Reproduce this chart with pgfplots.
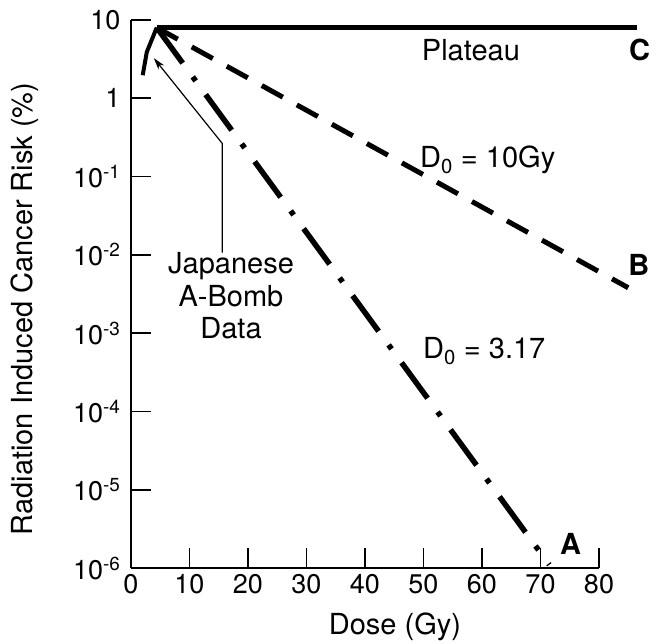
\documentclass[border=0pt]{standalone}
\usepackage{fontspec}
\setmainfont{TeX Gyre Heros}
\usepackage{pgfplots}
\pgfplotsset{compat=1.18}
\usetikzlibrary{arrows.meta}
\begin{document}
\begin{tikzpicture}
\path[use as bounding box] (-131bp,-76bp) rectangle (526bp,568bp);
\begin{axis}[
  at={(0,0)}, anchor=south west,
  scale only axis, width=468bp, height=548bp,
  ymode=log, log basis y=10,
  xmin=0, xmax=80, ymin=1e-6, ymax=10,
  axis lines=left,
  axis line style={line width=2bp, -},
  clip=false,
  tick align=inside,
  major tick length=20bp,
  minor tick length=0pt,
  minor tick style={draw=none},
  tick style={line width=1.6bp, black},
  xtick={0,10,20,30,40,50,60,70,80},
  xticklabels={0,10,20,30,40,50,60,70,80},
  ytick={1e-6,1e-5,1e-4,1e-3,1e-2,1e-1,1,10},
  yticklabels={10\textsuperscript{-6},10\textsuperscript{-5},10\textsuperscript{-4},10\textsuperscript{-3},10\textsuperscript{-2},10\textsuperscript{-1},1,10},
  /pgf/number format/assume math mode=true,
  tick label style={font=\fontsize{27bp}{31bp}\selectfont},
  xticklabel style={yshift=-3bp},
  yticklabel style={xshift=-7bp},
  xlabel={Dose (Gy)},
  xlabel style={at={(axis description cs:0.564,-0.108)}, anchor=center, font=\fontsize{29bp}{33bp}\selectfont},
  ylabel={Radiation Induced Cancer Risk (\%)},
  ylabel style={at={(axis description cs:-0.226,0.473)}, anchor=center, font=\fontsize{29bp}{33bp}\selectfont},
]
% Japanese A-bomb data
\addplot[black, line width=4bp, line join=miter] coordinates {(2.0,1.97) (2.7,3.9) (4.4,8)};
% C: plateau
\addplot[black, line width=5bp] coordinates {(4.4,8) (86.5,8)};
% B: D0 = 10 Gy
\addplot[black, line width=5bp, dash pattern=on 24bp off 16bp] coordinates {(4.4,8) (85,3.8e-3)};
% A: D0 = 3.17
\addplot[black, line width=5.5bp, dash pattern=on 44bp off 17bp on 5bp off 17bp] coordinates {(4.4,8) (71.5,1.1e-6)};

\draw[black, line width=1.2bp, -{Stealth[length=12bp,width=7bp]}] (axis cs:15.6,0.0107) -- (axis cs:15.6,0.265) -- (axis cs:3.9,3.26);

\begin{scope}[every node/.style={font=\fontsize{29bp}{33bp}\selectfont, inner sep=0pt}]
\node[anchor=base west] at (axis cs:49.7,3.07) {Plateau};
\node[anchor=base west, font=\fontsize{29bp}{33bp}\selectfont\bfseries] at (axis cs:85.1,3.07) {C};
\node[anchor=base west] at (axis cs:49.4,0.13) {D\textsubscript{0} = 10Gy};
\node[anchor=base west, font=\fontsize{29bp}{33bp}\selectfont\bfseries] at (axis cs:85.0,5.4e-3) {B};
\node[anchor=base west] at (axis cs:49.9,4.7e-4) {D\textsubscript{0} = 3.17};
\node[anchor=base west, font=\fontsize{29bp}{33bp}\selectfont\bfseries] at (axis cs:73.3,1.48e-6) {A};
\node[anchor=base] at (axis cs:17.1,5.7e-3) {Japanese};
\node[anchor=base] at (axis cs:17.1,2.2e-3) {A-Bomb};
\node[anchor=base] at (axis cs:17.1,8.5e-4) {Data};
\end{scope}
\end{axis}
\end{tikzpicture}
\end{document}
